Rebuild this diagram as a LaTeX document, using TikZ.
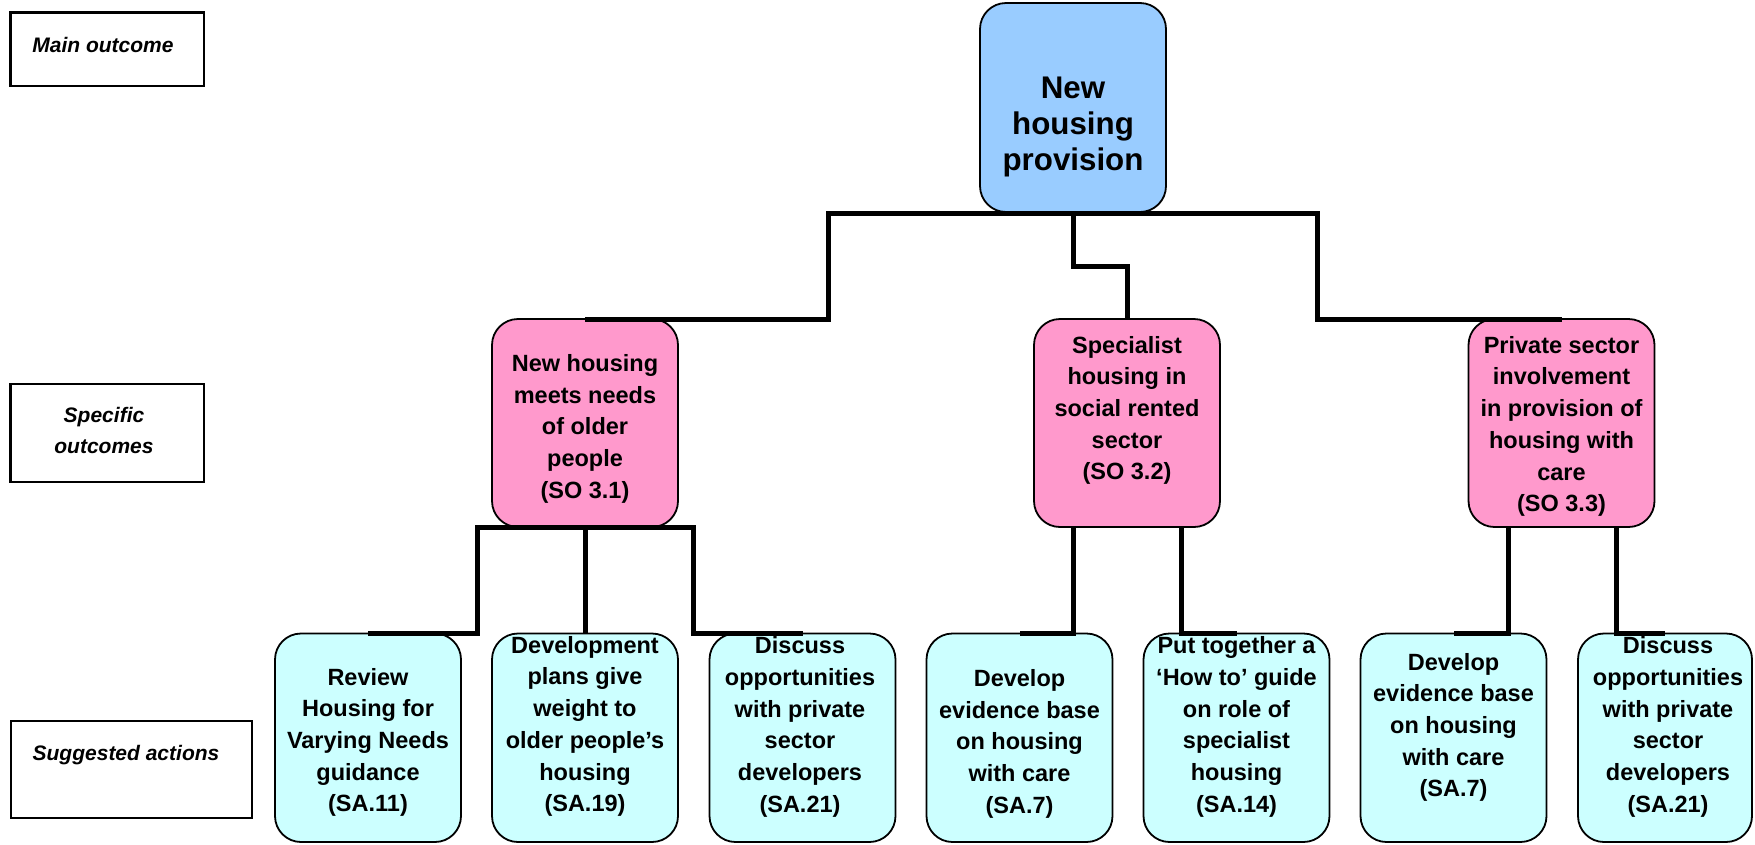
\documentclass[tikz,border=0pt]{standalone}
\usepackage{fontspec}
\setmainfont{Liberation Sans}
\definecolor{mainblue}{HTML}{99CCFF}
\definecolor{sopink}{HTML}{FF99CC}
\definecolor{sacyan}{HTML}{CCFFFF}
\tikzset{
  box/.style={draw=black, line width=1.8pt, rounded corners=26pt,
    minimum width=186pt, minimum height=208pt, inner sep=0pt, outer sep=0pt},
  mainbox/.style={box, fill=mainblue, minimum height=209pt},
  sobox/.style={box, fill=sopink},
  sabox/.style={box, fill=sacyan, minimum height=208.5pt},
  lblbox/.style={draw=black, line width=2.2pt, fill=white, inner sep=0pt, outer sep=0pt},
  txt/.style={align=center, inner sep=0pt, font=\bfseries\fontsize{23.5}{31.7}\selectfont},
  maintxt/.style={txt, font=\bfseries\fontsize{31.3}{36}\selectfont},
  lbltxt/.style={align=center, inner sep=0pt, font=\bfseries\itshape\fontsize{21}{31}\selectfont},
  conn/.style={draw=black, line width=5pt, line join=miter}
}
\begin{document}
\begin{tikzpicture}[x=1pt, y=-1pt]
\useasboundingbox (0,0) rectangle (1755,844);

% level captions on the left
\node[lblbox, minimum width=193.5pt, minimum height=73.5pt] (capmain) at (107.3,49.3) {};
\node[lbltxt, anchor=base] (capmaintxt) at (103,52.3) {Main outcome};
\node[lblbox, minimum width=193.5pt, minimum height=97.5pt] (capso) at (107.3,433) {};
\node[lbltxt] (capsotxt) at (104,430.2) {Specific\\outcomes};
\node[lblbox, minimum width=241.5pt, minimum height=97pt] (capsa) at (131.5,769.2) {};
\node[lbltxt, anchor=base] (capsatxt) at (126,760) {Suggested actions};

% main outcome
\node[mainbox] (main) at (1073,107.5) {};
\node[maintxt] (maintext) at (1073,127.1) {New\\housing\\provision};

% specific outcomes
\node[sobox] (so31) at (585,423) {};
\node[sobox] (so32) at (1127,423) {};
\node[sobox] (so33) at (1561.5,423) {};
\node[txt] (so31t) at (585,428.7) {New housing\\meets needs\\of older\\people\\(SO 3.1)};
\node[txt] (so32t) at (1127,410.4) {Specialist\\housing in\\social rented\\sector\\(SO 3.2)};
\node[txt] (so33t) at (1561.5,426.4) {Private sector\\involvement\\in provision of\\housing with\\care\\(SO 3.3)};

% suggested actions
\node[sabox] (sa11) at (368,737.75) {};
\node[sabox] (sa19) at (585,737.75) {};
\node[sabox] (sa21a) at (802.5,737.75) {};
\node[sabox] (sa7a) at (1019.5,737.75) {};
\node[sabox] (sa14) at (1236.5,737.75) {};
\node[sabox] (sa7b) at (1453.5,737.75) {};
\node[sabox, minimum width=174pt] (sa21b) at (1665,737.75) {};
\node[txt] (sa11t) at (368,742.4) {Review\\Housing for\\Varying Needs\\guidance\\(SA.11)};
\node[txt] (sa19t) at (585,726.4) {Development\\plans give\\weight to\\older people’s\\housing\\(SA.19)};
\node[txt] (sa21at) at (800,726.9) {Discuss\\opportunities\\with private\\sector\\developers\\(SA.21)};
\node[txt] (sa7at) at (1019.5,743.9) {Develop\\evidence base\\on housing\\with care\\(SA.7)};
\node[txt] (sa14t) at (1236.5,726.9) {Put together a\\‘How to’ guide\\on role of\\specialist\\housing\\(SA.14)};
\node[txt] (sa7bt) at (1453.5,727.4) {Develop\\evidence base\\on housing\\with care\\(SA.7)};
\node[txt] (sa21bt) at (1668,726.9) {Discuss\\opportunities\\with private\\sector\\developers\\(SA.21)};

% bend points of the connectors
\coordinate (barL) at (828,213);
\coordinate (barR) at (1317,213);
\coordinate (stepM) at (1073,266);
\coordinate (a1L) at (477,527.5);
\coordinate (a1R) at (693,527.5);
\coordinate (a2L) at (1073,527);
\coordinate (a2R) at (1181,527);
\coordinate (a3L) at (1508,527);
\coordinate (a3R) at (1616,527);

% main -> specific outcomes
\draw[conn] (so31.north) -| (barL) -- (barR) |- (so33.north);
\draw[conn] (main.south) -- (stepM) -| (so32.north);

% specific outcomes -> suggested actions
\draw[conn] (sa11.north) -| (a1L) -- (a1R) |- (sa21a.north);
\draw[conn] (so31.south) -- (sa19.north);
\draw[conn] (a2L) |- (sa7a.north);
\draw[conn] (a2R) |- (sa14.north);
\draw[conn] (a3L) |- (sa7b.north);
\draw[conn] (a3R) |- (sa21b.north);
\end{tikzpicture}
\end{document}
